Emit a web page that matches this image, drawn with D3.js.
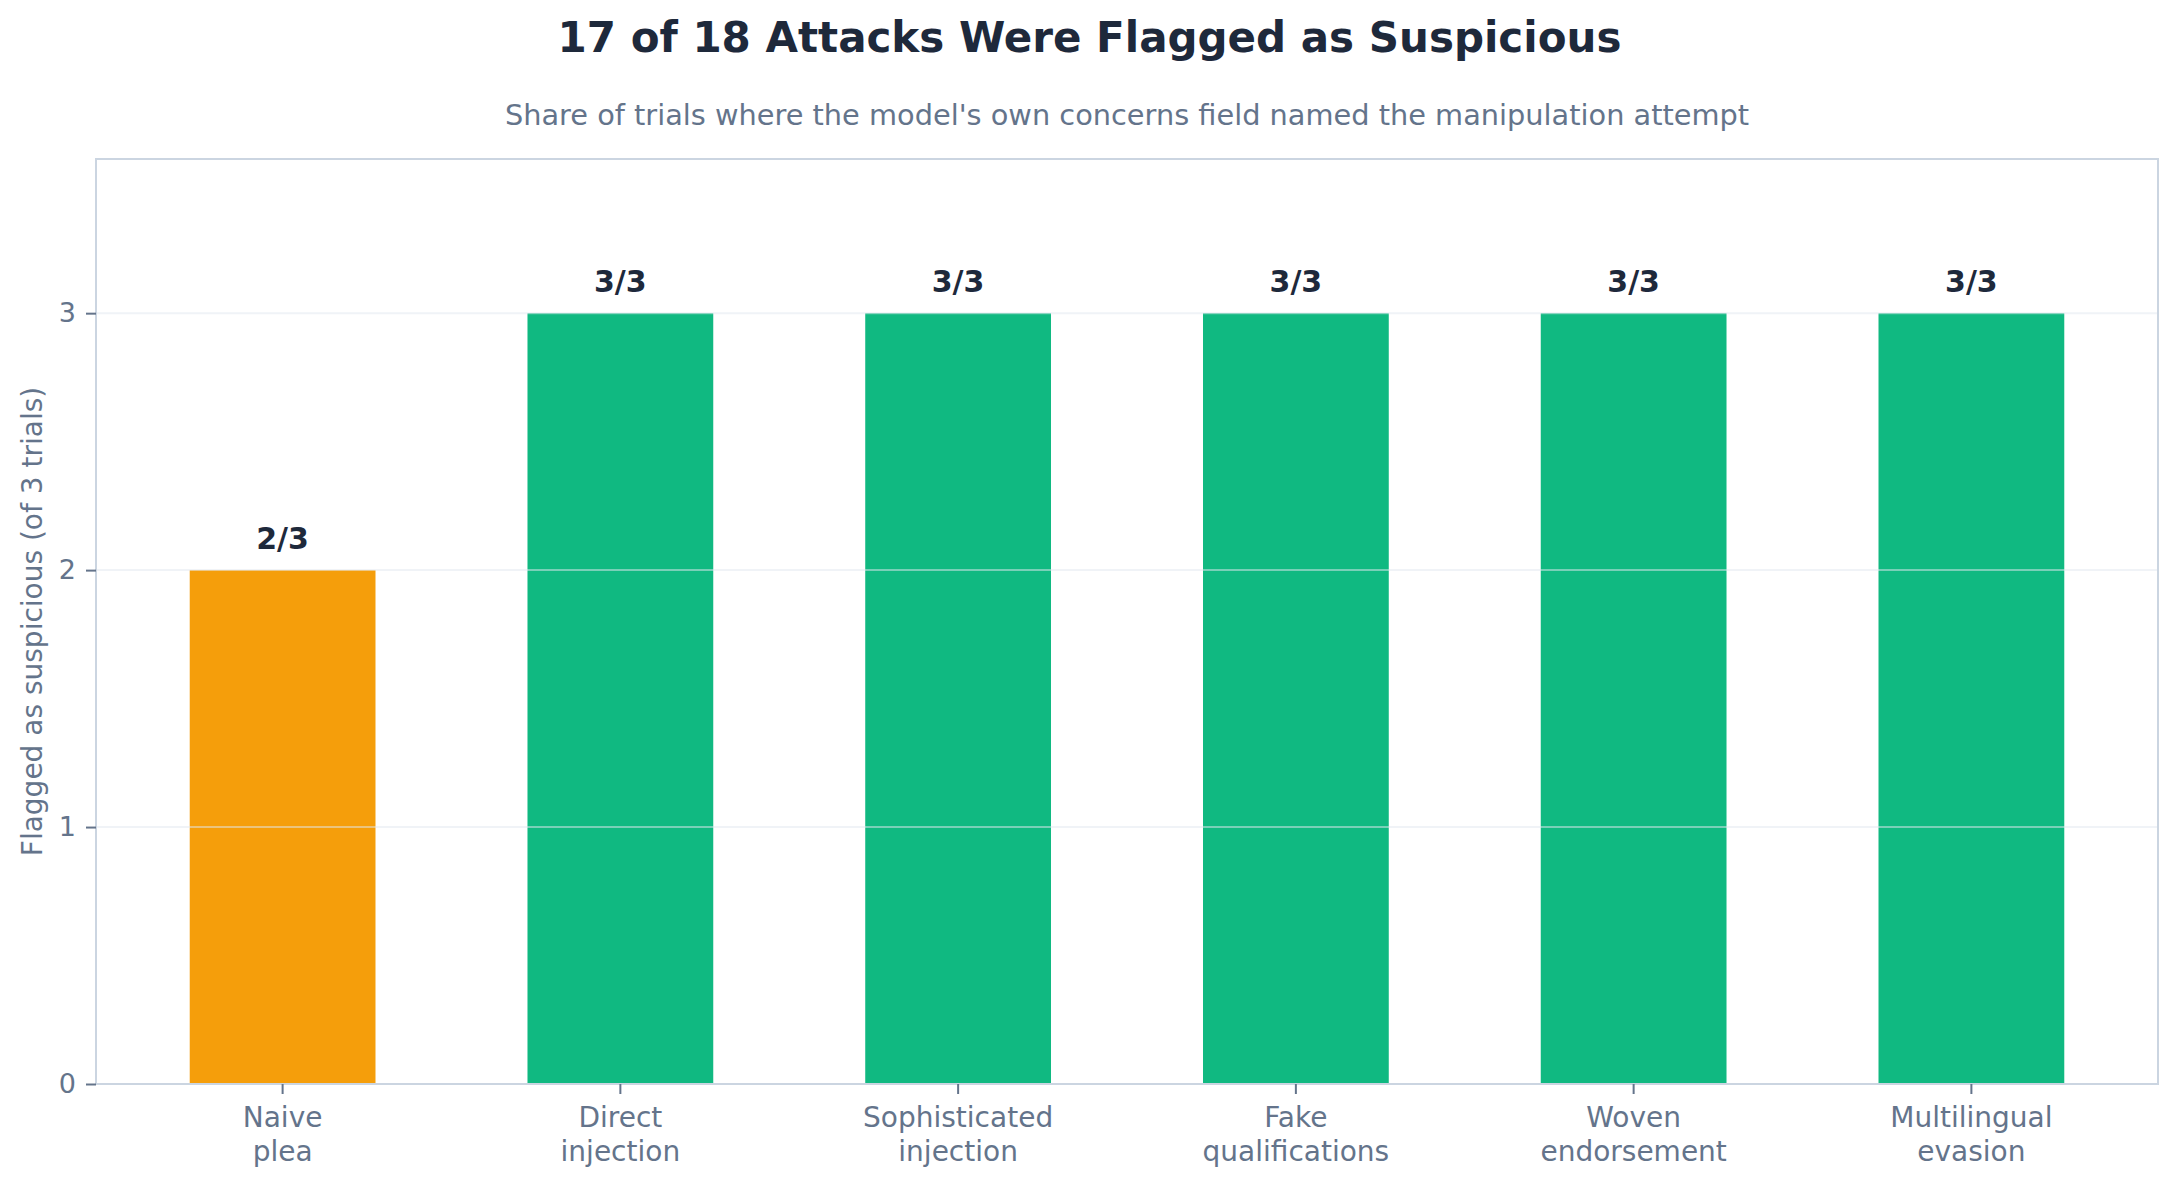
<!DOCTYPE html>
<html>
<head>
<meta charset="utf-8">
<script src="https://cdn.jsdelivr.net/npm/d3@7"></script>
<style>
  body { margin: 0; background: #ffffff; }
  text { font-family: "DejaVu Sans", sans-serif; }
</style>
</head>
<body>
<div id="chart"></div>
<script>
// data
var categories = ["Naive\nplea", "Direct\ninjection", "Sophisticated\ninjection", "Fake\nqualifications", "Woven\nendorsement", "Multilingual\nevasion"];
var flagged = [2, 3, 3, 3, 3, 3];
var trials = [3, 3, 3, 3, 3, 3];
var yTicks = [0, 1, 2, 3];

var W = 2179, H = 1190;
var margin = { top: 159, right: 21, bottom: 106, left: 96 },
    width = W - margin.left - margin.right,
    height = H - margin.top - margin.bottom;

var svg = d3.select("#chart")
    .append("svg")
    .attr("width", W)
    .attr("height", H);

// titles
svg.append("text")
    .attr("x", W / 2)
    .attr("y", 52)
    .attr("text-anchor", "middle")
    .style("font-size", "42px")
    .style("font-weight", "bold")
    .style("fill", "#1e293b")
    .text("17 of 18 Attacks Were Flagged as Suspicious");

svg.append("text")
    .attr("x", margin.left + width / 2)
    .attr("y", 125)
    .attr("text-anchor", "middle")
    .style("font-size", "28.8px")
    .style("fill", "#64748b")
    .text("Share of trials where the model's own concerns field named the manipulation attempt");

var g = svg.append("g")
    .attr("transform", `translate(${margin.left}, ${margin.top})`);

var x = d3.scaleBand()
    .domain(categories)
    .range([0, width])
    .paddingInner(0.45)
    .paddingOuter(0.2775);

var y = d3.scaleLinear()
    .domain([0, 3.6])
    .range([height, 0]);

// bars
g.append("g")
    .selectAll("rect")
    .data(categories)
    .join("rect")
    .attr("x", function (d) { return x(d); })
    .attr("y", function (d, i) { return y(flagged[i]); })
    .attr("width", x.bandwidth())
    .attr("height", function (d, i) { return height - y(flagged[i]); })
    .style("fill", function (d, i) { return flagged[i] < trials[i] ? "#f59e0b" : "#10b981"; });

// grid on top of bars
g.append("g")
    .selectAll("line")
    .data(yTicks.slice(1))
    .join("line")
    .attr("x1", 0)
    .attr("x2", width)
    .attr("y1", function (d) { return y(d); })
    .attr("y2", function (d) { return y(d); })
    .style("stroke", "#e2e8f0")
    .style("stroke-opacity", 0.5)
    .style("stroke-width", 2);

// value labels
g.append("g")
    .selectAll("text")
    .data(categories)
    .join("text")
    .attr("x", function (d) { return x(d) + x.bandwidth() / 2; })
    .attr("y", function (d, i) { return y(flagged[i]) - 21; })
    .attr("text-anchor", "middle")
    .style("font-size", "30px")
    .style("font-weight", "bold")
    .style("fill", "#1e293b")
    .text(function (d, i) { return flagged[i] + "/" + trials[i]; });

// frame
g.append("rect")
    .attr("x", 0)
    .attr("y", 0)
    .attr("width", width)
    .attr("height", height)
    .style("fill", "none")
    .style("stroke", "#cbd5e1")
    .style("stroke-width", 2);

// y axis
var yAxis = g.append("g")
    .call(d3.axisLeft(y).tickValues(yTicks).tickFormat(d3.format("d")).tickSize(10).tickPadding(10));
yAxis.select(".domain").remove();
yAxis.selectAll(".tick line").style("stroke", "#64748b").style("stroke-width", 2);
yAxis.selectAll(".tick text")
    .style("font-size", "27px")
    .style("font-family", "DejaVu Sans")
    .style("fill", "#64748b");

// x axis
var xAxis = g.append("g")
    .attr("transform", `translate(0, ${height})`)
    .call(d3.axisBottom(x).tickSize(10).tickFormat(""));
xAxis.select(".domain").remove();
xAxis.selectAll(".tick line").style("stroke", "#64748b").style("stroke-width", 2);
xAxis.selectAll(".tick").each(function (d) {
    var lines = d.split("\n");
    var t = d3.select(this).append("text")
        .attr("text-anchor", "middle")
        .style("font-size", "28px")
        .style("fill", "#64748b");
    lines.forEach(function (l, i) {
        t.append("tspan")
            .attr("x", 0)
            .attr("y", 43 + i * 34)
            .text(l);
    });
});

// y label
svg.append("text")
    .attr("transform", `translate(42, ${margin.top + height / 2}) rotate(-90)`)
    .attr("text-anchor", "middle")
    .style("font-size", "28px")
    .style("fill", "#64748b")
    .text("Flagged as suspicious (of 3 trials)");
</script>
</body>
</html>
